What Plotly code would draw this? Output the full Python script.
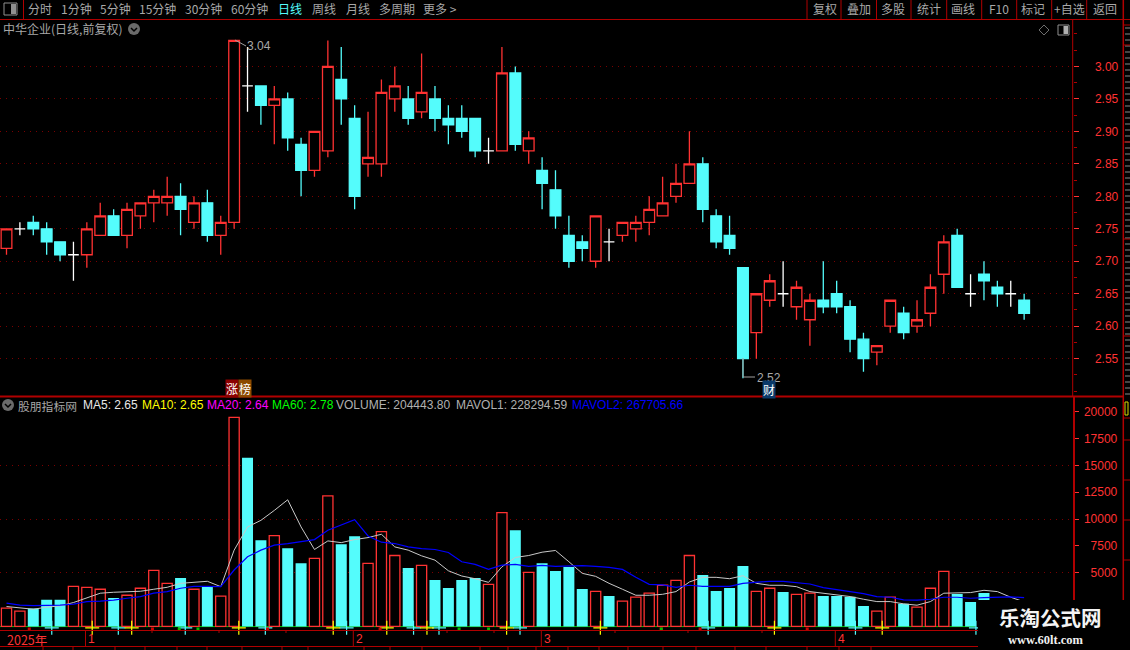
import plotly.graph_objects as go

# ---- data ----
opens = [2.72,2.75,2.76,2.75,2.73,2.71,2.71,2.74,2.77,2.74,2.77,2.79,2.79,2.80,2.76,2.79,2.74,2.76,2.97,2.97,
         2.94,2.95,2.88,2.84,2.87,2.98,2.92,2.85,2.85,2.95,2.95,2.93,2.95,2.92,2.92,2.92,2.87,2.87,2.99,2.87,
         2.84,2.81,2.74,2.73,2.70,2.73,2.74,2.75,2.76,2.77,2.80,2.82,2.85,2.77,2.74,2.69,2.59,2.64,2.65,2.63,
         2.61,2.64,2.65,2.63,2.58,2.56,2.60,2.62,2.60,2.62,2.68,2.74,2.65,2.68,2.66,2.65,2.64]
closes = [2.75,2.75,2.75,2.73,2.71,2.71,2.75,2.77,2.74,2.78,2.79,2.80,2.80,2.78,2.79,2.74,2.76,3.04,2.97,2.94,
          2.95,2.89,2.84,2.90,3.00,2.95,2.80,2.86,2.96,2.97,2.92,2.96,2.92,2.91,2.90,2.87,2.87,2.99,2.88,2.89,
          2.82,2.77,2.70,2.72,2.77,2.73,2.76,2.76,2.78,2.79,2.82,2.85,2.78,2.73,2.72,2.55,2.65,2.67,2.65,2.66,
          2.64,2.63,2.63,2.58,2.55,2.57,2.64,2.59,2.61,2.66,2.73,2.66,2.65,2.67,2.65,2.65,2.62]
highs = [2.75,2.76,2.77,2.76,2.73,2.73,2.76,2.79,2.78,2.79,2.79,2.81,2.83,2.82,2.80,2.81,2.77,3.04,3.03,2.97,
         2.97,2.96,2.89,2.90,3.04,3.03,2.94,2.93,2.98,3.00,2.97,3.02,2.97,2.94,2.94,2.92,2.89,3.03,3.00,2.90,
         2.86,2.84,2.77,2.74,2.77,2.75,2.76,2.77,2.80,2.83,2.85,2.90,2.86,2.78,2.77,2.69,2.65,2.68,2.70,2.67,
         2.65,2.70,2.67,2.64,2.59,2.57,2.64,2.63,2.64,2.68,2.74,2.75,2.68,2.70,2.67,2.67,2.65]
lows = [2.71,2.74,2.74,2.71,2.70,2.67,2.69,2.74,2.74,2.72,2.75,2.76,2.77,2.74,2.75,2.73,2.71,2.75,2.93,2.91,
        2.88,2.87,2.80,2.83,2.86,2.91,2.78,2.83,2.83,2.93,2.91,2.92,2.90,2.88,2.89,2.86,2.85,2.87,2.87,2.85,
        2.78,2.75,2.69,2.70,2.69,2.70,2.73,2.73,2.74,2.77,2.79,2.82,2.76,2.72,2.71,2.52,2.55,2.63,2.63,2.61,
        2.57,2.62,2.62,2.56,2.53,2.54,2.59,2.58,2.59,2.60,2.65,2.66,2.63,2.64,2.63,2.63,2.61]
volumes = [1700,1420,1670,2470,2470,3730,3640,3460,2650,2900,3550,5215,4010,4500,3460,3700,2810,19470,15700,8020,
           8460,7280,5890,6330,12160,7650,8400,5860,8830,6600,5430,5680,4320,3580,4320,4500,3920,10590,8950,5030,
           5890,5150,5520,3490,3270,2840,2350,2720,3090,3830,4290,6600,4780,3300,3580,5620,3270,3550,3210,2990,
           3090,2840,2840,2750,1910,1420,2720,2100,1790,3550,5120,3020,2280,3120,2100,1900,2044]
vol_down_idx = [2,3,4,8,13,15,18,19,21,22,25,26,30,32,33,34,35,38,40,41,42,43,45,52,53,54,55,58,61,62,63,64,67,71,72,73,74,76]
mavol1 = [1850,1700,1600,1790,1910,2220,2620,3090,3180,3240,3270,3460,3640,4010,4135,4200,3700,7100,9260,9875,
          10800,11790,9260,7160,7960,7800,8085,8270,8580,7400,7100,6570,6170,5180,4690,4440,4100,5550,6420,6600,
          6910,7070,6020,4940,4660,4010,3460,2900,2900,2990,3240,4135,4570,4570,4440,4720,4010,3830,3830,3700,
          3240,3090,2960,2780,2530,2310,2310,2100,1975,2310,3090,3090,3150,3360,3240,2715,2283]
mavol2 = [2160,1975,1940,1940,1975,2070,2310,2350,2440,2620,2780,3090,3240,3550,3730,3730,3700,5250,6480,7100,
          7560,7700,7900,8085,8950,9410,9940,8420,7840,7715,7400,7250,7160,6880,6020,5770,5310,5710,5770,5585,
          5680,5585,5650,5650,5585,5490,5310,4570,3920,3860,3640,3830,3730,3730,3730,4010,4135,4200,4200,4070,
          3950,3610,3425,3300,3055,2780,2715,2470,2440,2530,2715,2715,2620,2685,2685,2750,2677]
price_ticks = [3.00,2.95,2.90,2.85,2.80,2.75,2.70,2.65,2.60,2.55]
volume_ticks = [20000,17500,15000,12500,10000,7500,5000]
volume_grid = [15000,10000,5000]
# bottom signal glyphs, as positions on the candle index
cyan_signal_x = [3.38,8.35,13.35,19.33,25.4,30.4,32.3,38.35,52.4,63.4,72.4]
yellow_signal_x = [6.4,9.35,17.35,24.4,28.4,31.4,37.35,44.35,57.35,65.4]
red_dot_x = [1.7,27.9,51.8,10.9,19.5,48.9,59.8]
green_dot_x = [12.9,48.9,14.3,33.8,36.0]
month_labels = ["2025年","1","2","3","4"]
toolbar_left = [("分时",39.5),("1分钟",76),("5分钟",115),("15分钟",157.5),("30分钟",203.5),("60分钟",249.5),
                ("日线",289.5),("周线",323.5),("月线",357.5),("多周期",396.5),("更多 >",439.5)]
toolbar_right = [("复权",824.5),("叠加",858.5),("多股",893),("统计",928.5),("画线",963),("F10",999),
                 ("标记",1033),("+自选",1069.5),("返回",1105)]
indicator_labels = [("MA5: 2.65",83,"#e8e8e8"),("MA10: 2.65",142,"#ffff00"),("MA20: 2.64",207,"#ff00ff"),
                    ("MA60: 2.78",272,"#00ff00"),("VOLUME: 204443.80",336,"#b0b0b0"),
                    ("MAVOL1: 228294.59",456,"#b0b0b0"),("MAVOL2: 267705.66",572,"#0000ff")]

# ---- styling ----
W, H = 1130, 650
RED = "#ff3232"
CYAN = "#54fcfc"
BORDER = "#b00000"
GRID = "#7a0000"
GREY = "#a8a8a8"
LATIN = "Liberation Sans"
CJK = "Noto Sans CJK SC"
n = len(opens)
STEP = 13.39
def px(x): return x / W
def py(y): return 1 - y / H
x_range = [-6.5 / STEP, (1072.5 - 6.5) / STEP]

idx = list(range(n))
up = [i for i in idx if closes[i] > opens[i]]
down = [i for i in idx if closes[i] < opens[i]]
doji = [i for i in idx if closes[i] == opens[i]]

def candle(ids, color, fill, w=1.3):
    return go.Candlestick(
        x=ids, open=[opens[i] for i in ids], high=[highs[i] for i in ids],
        low=[lows[i] for i in ids], close=[closes[i] for i in ids],
        increasing=dict(line=dict(color=color, width=w), fillcolor=fill),
        decreasing=dict(line=dict(color=color, width=w), fillcolor=fill),
        whiskerwidth=0, showlegend=False, xaxis="x", yaxis="y")

fig = go.Figure()
fig.add_trace(candle(up, RED, "#000000"))
fig.add_trace(candle(down, CYAN, CYAN))
fig.add_trace(candle(doji, "#ffffff", "#ffffff"))

vol_up = [i for i in idx if i not in vol_down_idx]
fig.add_trace(go.Bar(x=vol_up, y=[volumes[i] for i in vol_up], width=0.76,
                     marker=dict(color="#000000", line=dict(color=RED, width=1.3)),
                     xaxis="x2", yaxis="y2", showlegend=False))
fig.add_trace(go.Bar(x=vol_down_idx, y=[volumes[i] for i in vol_down_idx], width=0.82,
                     marker=dict(color=CYAN, line=dict(width=0)),
                     xaxis="x2", yaxis="y2", showlegend=False))
fig.add_trace(go.Scatter(x=idx, y=mavol1, mode="lines", line=dict(color="#c8c8c8", width=1),
                         xaxis="x2", yaxis="y2", showlegend=False))
fig.add_trace(go.Scatter(x=idx, y=mavol2, mode="lines", line=dict(color="#0000ff", width=1.2),
                         xaxis="x2", yaxis="y2", showlegend=False))
for xs, c in ((cyan_signal_x, CYAN), (yellow_signal_x, "#ffff00")):
    fig.add_trace(go.Scatter(x=xs, y=[-130] * len(xs), mode="markers", cliponaxis=False,
                             marker=dict(symbol="cross-thin-open", size=10, color=c, line=dict(color=c, width=1.2)),
                             xaxis="x2", yaxis="y2", showlegend=False))
for xs, c in ((red_dot_x, "#d00000"), (green_dot_x, "#00c000")):
    fig.add_trace(go.Scatter(x=xs, y=[-240] * len(xs), mode="markers", cliponaxis=False,
                             marker=dict(symbol="square", size=3, color=c),
                             xaxis="x2", yaxis="y2", showlegend=False))

# ---- decoration shapes in page pixels ----
shapes = []
def line(x0, y0, x1, y1, color=BORDER, width=1, layer="above"):
    shapes.append(dict(type="line", xref="paper", yref="paper", x0=px(x0), y0=py(y0), x1=px(x1), y1=py(y1),
                       line=dict(color=color, width=width), layer=layer))
def rect(x0, y0, x1, y1, fill="#000000", color=None, width=0, layer="above"):
    shapes.append(dict(type="rect", xref="paper", yref="paper", x0=px(x0), y0=py(y0), x1=px(x1), y1=py(y1),
                       fillcolor=fill, line=dict(color=color or fill, width=width), layer=layer))
def circle(cx, cy, r, fill):
    shapes.append(dict(type="circle", xref="paper", yref="paper", x0=px(cx - r), y0=py(cy - r), x1=px(cx + r),
                       y1=py(cy + r), fillcolor=fill, line=dict(width=0), layer="above"))
def path(points, color, width=1):
    d = "M" + " L".join(f"{px(a):.5f},{py(b):.5f}" for a, b in points)
    shapes.append(dict(type="path", xref="paper", yref="paper", path=d, line=dict(color=color, width=width), layer="above"))

line(0, 19.5, 1130, 19.5)
line(0, 396.5, 1123, 396.5, width=2)
line(0, 630.5, 1123, 630.5)
line(0, 646.5, 1123, 646.5)
line(1072.7, 19.5, 1072.7, 396.5)
line(1074, 396.5, 1074, 630.5, width=2)
line(1123.3, 0, 1123.3, 600, width=1.5)
for x in (23.5, 807, 841, 876.5, 911, 946.7, 981.7, 1016.7, 1051.7, 1086.7):
    line(x, 0, x, 19.5)
for x in (85.5, 353.3, 541.3, 835.3):
    line(x, 630.5, x, 646.5)
for x in (152, 219, 286, 447, 494, 615, 688, 762):
    line(x, 630.5, x, 633)
for x in (43, 73, 115, 145, 177, 207, 242, 282, 308, 364, 390, 422, 480, 508, 536, 568, 599, 628, 663, 696, 735,
          766, 807, 839, 871):
    line(x, 646.5, x, 650)
# clipped side list: only slivers of its glyphs are visible at the page edge
for y in range(28, 395, 6):
    line(1125, y, 1130, y, color="#8a8a8a")
for y in (25, 45, 142, 239, 336, 418, 440, 480, 520, 560):
    line(1123.3, y, 1130, y)
rect(1125, 402, 1128, 415, fill="#000000", color="#d8d800", width=1)
# green baseline under the volume bars
line(0, 626.6, 975, 626.6, color="#00c800", width=1, layer="below")
# icons
rect(4, 3, 17, 15, fill="#000000", color="#909090", width=1)
rect(11, 4, 16, 14, fill="#909090")
rect(1058, 25, 1069, 35, fill="#000000", color="#909090", width=1)
rect(1063.5, 26, 1068, 34, fill="#b0b0b0")
path([(1044, 25), (1049, 30), (1044, 35), (1039, 30), (1044, 25)], "#707070")
for cx, cy in ((134, 29), (8, 405)):
    circle(cx, cy, 6, "#6a6a6a")
    path([(cx - 3, cy - 1), (cx, cy + 2), (cx + 3, cy - 1)], "#000000", 1.5)
# signal arrows
path([(743, 358), (743, 377), (755, 377)], "#a0a0a0")
path([(235, 40), (246, 46)], "#a0a0a0")
# watermark panel
rect(978, 600, 1130, 650)

# ---- text ----
ann = []
def text(x, y, s, color=GREY, size=12, font=CJK, anchor="center", bg=None, bold=False):
    if bold:
        s = f"<b>{s}</b>"
    if anchor == "left":
        x -= 1
    ann.append(dict(xref="paper", yref="paper", x=px(x), y=py(y), text=s, showarrow=False,
                    xanchor=anchor, yanchor="middle", font=dict(size=size, color=color, family=font),
                    bgcolor=bg, borderpad=0))

for s, x in toolbar_left:
    text(x, 9, s, color=CYAN if s == "日线" else GREY)
for s, x in toolbar_right:
    text(x, 9, s)
text(3, 29, "中华企业(日线,前复权)", anchor="left")
text(18, 405, "股朋指标网", anchor="left", size=11.8)
for s, x, c in indicator_labels:
    text(x, 405, s, color=c, font=LATIN, anchor="left")
text(757, 378, "2.52", color=GREY, font=LATIN, anchor="left")
text(247, 46, "3.04", color=GREY, font=LATIN, anchor="left")
text(232.5, 388.5, "涨", color="#ffffff", bg="#8b0000", size=12)
text(245, 388.5, "榜", color="#ffffff", bg="#8b4a00", size=12)
text(768.5, 389.5, "财", color="#ffffff", bg="#0a3a6a", size=12)
text(7, 639, month_labels[0], color=RED, anchor="left", size=12.5)
for s, x in zip(month_labels[1:], (88, 356, 544, 838)):
    text(x, 639, s, color=RED, font=LATIN, anchor="left", size=12)
text(1050, 619, "乐淘公式网", color="#f4f4f4", size=20.5, font="Liberation Serif, Noto Sans CJK SC", bold=True)
text(1046, 640, "www.60lt.com", color="#f0f0f0", size=12.5, font="Liberation Serif", bold=True)

y_top = (2.55 - (396.5 - 358.7) / 649.6, 3.00 + (66.4 - 19.5) / 649.6)
VOL_SCALE = 0.01074
vol_rng = (-(630.5 - 626.4) / VOL_SCALE, (626.4 - 397) / VOL_SCALE)

fig.update_layout(
    width=W, height=H, margin=dict(l=0, r=0, t=0, b=0), autosize=False,
    paper_bgcolor="#000000", plot_bgcolor="#000000", showlegend=False,
    barmode="overlay", boxgap=0.2, boxgroupgap=0, hovermode=False,
    xaxis=dict(domain=[0, 1072.5 / W], range=x_range, visible=False, rangeslider=dict(visible=False),
               anchor="y", fixedrange=True),
    xaxis2=dict(domain=[0, 1072.5 / W], range=x_range, visible=False, anchor="y2", fixedrange=True),
    yaxis=dict(domain=[py(396.5), py(19.5)], range=list(y_top), side="right", anchor="x", fixedrange=True,
               tickmode="array", tickvals=price_ticks, ticktext=[f"{v:.2f}" for v in price_ticks],
               tickfont=dict(family=LATIN, size=12, color=RED), ticks="outside", ticklen=5, tickcolor=RED,
               ticklabelstandoff=14, showgrid=True, gridcolor=GRID, griddash="1px,5px", gridwidth=1,
               zeroline=False, showline=False,
               minor=dict(dtick=0.025, tick0=2.5, ticks="outside", ticklen=3, tickcolor=BORDER, showgrid=False)),
    yaxis2=dict(domain=[py(630.5), py(397)], range=list(vol_rng), side="right", anchor="x2", fixedrange=True,
                tickmode="array", tickvals=volume_ticks,
                ticktext=[("\u00a0\u00a0" if v < 10000 else "") + str(v) for v in volume_ticks],
                tickfont=dict(family=LATIN, size=12, color=RED), ticks="outside", ticklen=5, tickcolor=RED,
                ticklabelstandoff=3, showgrid=False, zeroline=False, showline=False,
                minor=dict(tickvals=volume_grid, ticks="", showgrid=True, gridcolor=GRID,
                           griddash="1px,5px", gridwidth=1)),
    shapes=shapes, annotations=ann,
)

fig.write_html("out.html", config=dict(displayModeBar=False, staticPlot=True),
               post_script="document.body.style.margin='0';document.body.style.background='#000';document.body.style.overflow='hidden';")
